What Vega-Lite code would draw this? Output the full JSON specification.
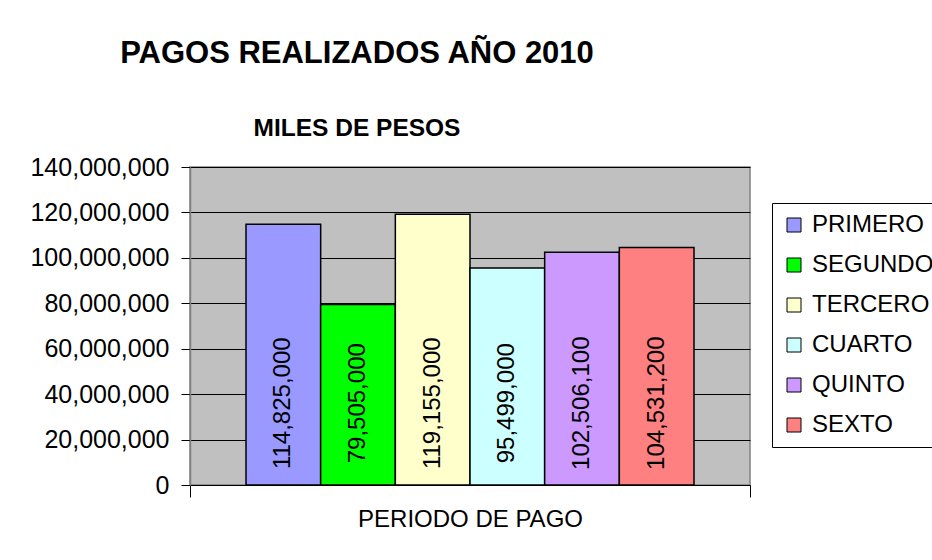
{
  "$schema": "https://vega.github.io/schema/vega-lite/v6.json",
  "autosize": {"type": "none"},
  "padding": {"left": 190, "top": 167, "right": 182, "bottom": 75},
  "width": 560,
  "height": 318,
  "background": "white",
  "config": {
    "font": "Liberation Sans",
    "view": {"fill": "#C0C0C0", "stroke": "#808080", "strokeWidth": 1.5}
  },
  "title": {
    "text": "PAGOS REALIZADOS AÑO 2010",
    "subtitle": "MILES DE PESOS",
    "anchor": "middle",
    "dx": -113,
    "fontSize": 31,
    "fontWeight": "bold",
    "color": "black",
    "subtitleFontSize": 24.5,
    "subtitleFontWeight": "bold",
    "subtitleColor": "black",
    "subtitlePadding": 47,
    "offset": 14
  },
  "data": {
    "values": [
      {"grupo": "PERIODO DE PAGO", "periodo": "PRIMERO", "monto": 114825000},
      {"grupo": "PERIODO DE PAGO", "periodo": "SEGUNDO", "monto": 79505000},
      {"grupo": "PERIODO DE PAGO", "periodo": "TERCERO", "monto": 119155000},
      {"grupo": "PERIODO DE PAGO", "periodo": "CUARTO", "monto": 95499000},
      {"grupo": "PERIODO DE PAGO", "periodo": "QUINTO", "monto": 102506100},
      {"grupo": "PERIODO DE PAGO", "periodo": "SEXTO", "monto": 104531200}
    ]
  },
  "encoding": {
    "x": {
      "field": "grupo",
      "type": "nominal",
      "scale": {"paddingInner": 0, "paddingOuter": 0},
      "axis": {
        "title": null,
        "tickBand": "extent",
        "tickSize": 12,
        "tickColor": "black",
        "domainColor": "black",
        "labelFontSize": 24,
        "labelColor": "black",
        "labelPadding": 10,
        "labelAngle": 0,
        "labelLimit": 500
      }
    },
    "xOffset": {
      "field": "periodo",
      "type": "nominal",
      "sort": ["PRIMERO", "SEGUNDO", "TERCERO", "CUARTO", "QUINTO", "SEXTO"],
      "scale": {"paddingInner": 0, "paddingOuter": 0.75}
    }
  },
  "layer": [
    {
      "mark": {"type": "bar", "stroke": "black", "strokeWidth": 1.5},
      "encoding": {
        "y": {
          "field": "monto",
          "type": "quantitative",
          "scale": {"domain": [0, 140000000], "nice": false},
          "axis": {
            "title": null,
            "values": [0, 20000000, 40000000, 60000000, 80000000, 100000000, 120000000, 140000000],
            "format": ",d",
            "labelFontSize": 25,
            "labelColor": "black",
            "labelPadding": 12,
            "tickSize": 9,
            "tickColor": "black",
            "domainColor": "#808080",
            "domainWidth": 1.5,
            "grid": true,
            "gridColor": "black",
            "gridWidth": 1,
            "gridOpacity": 1
          }
        },
        "color": {
          "field": "periodo",
          "type": "nominal",
          "scale": {
            "domain": ["PRIMERO", "SEGUNDO", "TERCERO", "CUARTO", "QUINTO", "SEXTO"],
            "range": ["#9999FF", "#00FF00", "#FFFFCC", "#CCFFFF", "#CC99FF", "#FF8080"]
          },
          "legend": {
            "title": null,
            "orient": "none",
            "legendX": 582,
            "legendY": 36,
            "padding": 10,
            "strokeColor": "black",
            "fillColor": "white",
            "symbolType": "square",
            "symbolSize": 196,
            "symbolStrokeColor": "black",
            "symbolStrokeWidth": 1,
            "symbolOpacity": 1,
            "labelFontSize": 24,
            "labelColor": "black",
            "labelOffset": 6,
            "rowPadding": 16,
            "labelLimit": 300
          }
        }
      }
    },
    {
      "mark": {"type": "text", "angle": 270, "align": "center", "baseline": "middle", "fontSize": 24, "color": "black"},
      "encoding": {
        "y": {"datum": 36000000, "type": "quantitative"},
        "text": {"field": "monto", "type": "quantitative", "format": ",d"}
      }
    }
  ]
}
